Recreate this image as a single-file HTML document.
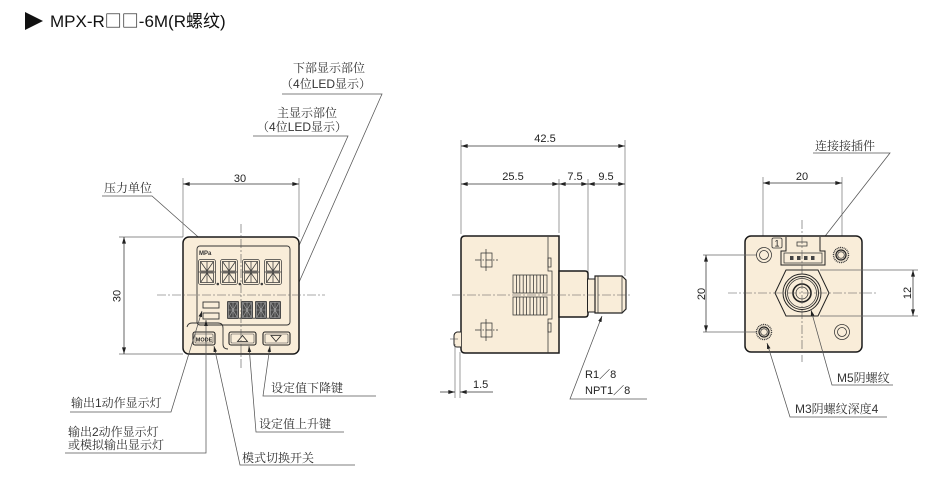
<!DOCTYPE html>
<html><head><meta charset="utf-8"><style>
html,body{margin:0;padding:0;background:#fff;}
svg{display:block;}
.cj{font-family:"Liberation Sans","Noto Serif CJK SC",serif;font-size:12px;fill:#333;}
.pp{font-family:"Noto Serif CJK SC",serif;}
.dm{font-family:"Liberation Sans",sans-serif;font-size:11px;fill:#222;}
.ld{stroke:#555;stroke-width:0.75;fill:none;}
.ex{stroke:#666;stroke-width:0.65;fill:none;}
.dl{stroke:#333;stroke-width:0.75;fill:none;}
.cl{stroke:#555;stroke-width:0.6;fill:none;stroke-dasharray:9 2 2 2;}
.bd{fill:#f9edd9;stroke:#1a1a1a;stroke-width:1.5;}
.th{fill:none;stroke:#333;stroke-width:0.75;}
.sg{fill:none;stroke:#3a3a3a;stroke-width:0.75;}
</style></head><body>
<svg width="944" height="491" viewBox="0 0 944 491" xmlns="http://www.w3.org/2000/svg">
<defs>
<marker id="ar" viewBox="0 0 10 6" refX="10" refY="3" markerWidth="7" markerHeight="4" orient="auto-start-reverse" markerUnits="userSpaceOnUse"><path d="M0,0 L10,3 L0,6z" fill="#222"/></marker>
<marker id="la" viewBox="0 0 10 6" refX="10" refY="3" markerWidth="6" markerHeight="3.6" orient="auto" markerUnits="userSpaceOnUse"><path d="M0,0 L10,3 L0,6z" fill="#222"/></marker>
</defs>

<!-- Title -->
<polygon points="25,12 43,21 25,30" fill="#111"/>
<text x="50" y="27" style="font-family:'Liberation Sans','Noto Sans CJK SC',sans-serif;font-size:17px;fill:#111">MPX-R<tspan style="font-family:'Noto Sans CJK SC',sans-serif">□□</tspan>-6M(R螺纹)</text>

<!-- ============ FRONT VIEW ============ -->
<text class="cj" x="293" y="72">下部显示部位</text>
<text class="cj" x="281" y="88"><tspan class="pp">（</tspan>4位LED显示<tspan class="pp">）</tspan></text>
<polyline class="ld" points="282,94 382,94 289,305" marker-end="url(#la)"/>
<text class="cj" x="277" y="117">主显示部位</text>
<text class="cj" x="257" y="131"><tspan class="pp">（</tspan>4位LED显示<tspan class="pp">）</tspan></text>
<polyline class="ld" points="253,136 348,136 289,268" marker-end="url(#la)"/>
<text class="cj" x="104" y="192">压力单位</text>
<polyline class="ld" points="102,196 152,196 205,243" marker-end="url(#la)"/>

<!-- dim 30 top -->
<line class="ex" x1="183" y1="178" x2="183" y2="237"/>
<line class="ex" x1="299" y1="178" x2="299" y2="237"/>
<line class="dl" x1="183" y1="184" x2="299" y2="184" marker-start="url(#ar)" marker-end="url(#ar)"/>
<text class="dm" x="240" y="182" text-anchor="middle">30</text>
<!-- dim 30 left -->
<line class="ex" x1="119" y1="237" x2="183" y2="237"/>
<line class="ex" x1="119" y1="354" x2="183" y2="354"/>
<line class="dl" x1="124" y1="237" x2="124" y2="354" marker-start="url(#ar)" marker-end="url(#ar)"/>
<text class="dm" transform="translate(120.5,296) rotate(-90)" text-anchor="middle">30</text>

<!-- panel -->
<rect class="bd" x="183" y="237" width="116" height="117" rx="6"/>
<rect x="197" y="246" width="93" height="79" rx="3" fill="#f9edd9" stroke="#333" stroke-width="0.9"/>
<text x="199" y="255" style="font-family:'Liberation Sans',sans-serif;font-size:6px;font-weight:bold;fill:#333">MPa</text>
<!-- upper digits -->
<g class="sg">
<g transform="translate(198,259)"><rect x="0.5" y="0.5" width="17" height="25" rx="2"/><rect x="2.5" y="2.5" width="13" height="9.5"/><rect x="2.5" y="14" width="13" height="9.5"/><line x1="9" y1="2.5" x2="9" y2="23.5"/><line x1="0.5" y1="13" x2="17.5" y2="13"/><line x1="2.5" y1="2.5" x2="9" y2="12"/><line x1="15.5" y1="2.5" x2="9" y2="12"/><line x1="2.5" y1="23.5" x2="9" y2="14"/><line x1="15.5" y1="23.5" x2="9" y2="14"/><circle cx="19.8" cy="25" r="0.9" fill="#444"/></g>
<g transform="translate(220,259)"><rect x="0.5" y="0.5" width="17" height="25" rx="2"/><rect x="2.5" y="2.5" width="13" height="9.5"/><rect x="2.5" y="14" width="13" height="9.5"/><line x1="9" y1="2.5" x2="9" y2="23.5"/><line x1="0.5" y1="13" x2="17.5" y2="13"/><line x1="2.5" y1="2.5" x2="9" y2="12"/><line x1="15.5" y1="2.5" x2="9" y2="12"/><line x1="2.5" y1="23.5" x2="9" y2="14"/><line x1="15.5" y1="23.5" x2="9" y2="14"/><circle cx="19.8" cy="25" r="0.9" fill="#444"/></g>
<g transform="translate(242,259)"><rect x="0.5" y="0.5" width="17" height="25" rx="2"/><rect x="2.5" y="2.5" width="13" height="9.5"/><rect x="2.5" y="14" width="13" height="9.5"/><line x1="9" y1="2.5" x2="9" y2="23.5"/><line x1="0.5" y1="13" x2="17.5" y2="13"/><line x1="2.5" y1="2.5" x2="9" y2="12"/><line x1="15.5" y1="2.5" x2="9" y2="12"/><line x1="2.5" y1="23.5" x2="9" y2="14"/><line x1="15.5" y1="23.5" x2="9" y2="14"/><circle cx="19.8" cy="25" r="0.9" fill="#444"/></g>
<g transform="translate(264,259)"><rect x="0.5" y="0.5" width="17" height="25" rx="2"/><rect x="2.5" y="2.5" width="13" height="9.5"/><rect x="2.5" y="14" width="13" height="9.5"/><line x1="9" y1="2.5" x2="9" y2="23.5"/><line x1="0.5" y1="13" x2="17.5" y2="13"/><line x1="2.5" y1="2.5" x2="9" y2="12"/><line x1="15.5" y1="2.5" x2="9" y2="12"/><line x1="2.5" y1="23.5" x2="9" y2="14"/><line x1="15.5" y1="23.5" x2="9" y2="14"/></g>
</g>
<!-- indicator bars -->
<rect x="203" y="302" width="16" height="6" fill="#f9edd9" stroke="#333" stroke-width="0.9"/>
<rect x="203" y="313" width="16" height="6" fill="#f9edd9" stroke="#333" stroke-width="0.9"/>
<!-- lower digits -->
<g>
<g transform="translate(227,301)"><rect x="0" y="0" width="12" height="18" rx="1" fill="#4a4a4a"/><path d="M2,2 L10,16 M10,2 L2,16 M6,1 V17 M1,9 H11 M1.5,1.5 H10.5 V16.5 H1.5Z" stroke="#aaa" stroke-width="0.6" fill="none"/><circle cx="13" cy="17.3" r="0.8" fill="#444"/></g>
<g transform="translate(241,301)"><rect x="0" y="0" width="12" height="18" rx="1" fill="#4a4a4a"/><path d="M2,2 L10,16 M10,2 L2,16 M6,1 V17 M1,9 H11 M1.5,1.5 H10.5 V16.5 H1.5Z" stroke="#aaa" stroke-width="0.6" fill="none"/><circle cx="13" cy="17.3" r="0.8" fill="#444"/></g>
<g transform="translate(255,301)"><rect x="0" y="0" width="12" height="18" rx="1" fill="#4a4a4a"/><path d="M2,2 L10,16 M10,2 L2,16 M6,1 V17 M1,9 H11 M1.5,1.5 H10.5 V16.5 H1.5Z" stroke="#aaa" stroke-width="0.6" fill="none"/><circle cx="13" cy="17.3" r="0.8" fill="#444"/></g>
<g transform="translate(269,301)"><rect x="0" y="0" width="12" height="18" rx="1" fill="#4a4a4a"/><path d="M2,2 L10,16 M10,2 L2,16 M6,1 V17 M1,9 H11 M1.5,1.5 H10.5 V16.5 H1.5Z" stroke="#aaa" stroke-width="0.6" fill="none"/></g>
</g>
<!-- mode area outline -->
<path d="M187,327 Q188,323 192,323 H218 Q223,323 223,328 V344 Q223,349 228,349" fill="none" stroke="#333" stroke-width="0.9"/>
<!-- buttons -->
<rect x="193" y="332" width="22" height="13" rx="2" fill="#f9edd9" stroke="#222" stroke-width="1.1"/>
<rect x="195" y="334" width="18" height="9" rx="1" fill="none" stroke="#444" stroke-width="0.6"/>
<text x="204" y="341.3" text-anchor="middle" style="font-family:'Liberation Sans',sans-serif;font-size:5.5px;font-weight:bold;fill:#222">MODE</text>
<rect x="229" y="332" width="27" height="13" rx="2" fill="#f9edd9" stroke="#222" stroke-width="1.1"/>
<rect x="231" y="334" width="23" height="9" rx="1" fill="none" stroke="#444" stroke-width="0.6"/>
<polygon points="237.5,341.5 242.5,335.5 247.5,341.5" fill="none" stroke="#222" stroke-width="0.8"/>
<rect x="263" y="332" width="27" height="13" rx="2" fill="#f9edd9" stroke="#222" stroke-width="1.1"/>
<rect x="265" y="334" width="23" height="9" rx="1" fill="none" stroke="#444" stroke-width="0.6"/>
<polygon points="271,335.5 281,335.5 276,341.5" fill="none" stroke="#222" stroke-width="0.8"/>
<!-- centerlines -->
<line class="cl" x1="241" y1="224" x2="241" y2="368"/>
<line class="cl" x1="157" y1="295" x2="325" y2="295"/>

<!-- bottom labels front -->
<text class="cj" x="71" y="407">输出1动作显示灯</text>
<polyline class="ld" points="70,412 171,412 202,311" marker-end="url(#la)"/>
<text class="cj" x="68" y="436">输出2动作显示灯</text>
<text class="cj" x="68" y="449">或模拟输出显示灯</text>
<polyline class="ld" points="65,453 206,453 206,320" marker-end="url(#la)"/>
<text class="cj" x="242" y="462">模式切换开关</text>
<polyline class="ld" points="355,465 240,465 214,346" marker-end="url(#la)"/>
<text class="cj" x="259" y="428">设定值上升键</text>
<polyline class="ld" points="344,432 256,432 249,346" marker-end="url(#la)"/>
<text class="cj" x="271" y="392">设定值下降键</text>
<polyline class="ld" points="376,396 263,396 270,346" marker-end="url(#la)"/>

<!-- ============ SIDE VIEW ============ -->
<line class="ex" x1="461" y1="140" x2="461" y2="234"/>
<line class="ex" x1="625" y1="140" x2="625" y2="276"/>
<line class="ex" x1="559" y1="179" x2="559" y2="233"/>
<line class="ex" x1="588" y1="179" x2="588" y2="279"/>
<line class="dl" x1="461" y1="146" x2="625" y2="146" marker-start="url(#ar)" marker-end="url(#ar)"/>
<text class="dm" x="545" y="142" text-anchor="middle">42.5</text>
<line class="dl" x1="461" y1="184" x2="559" y2="184" marker-start="url(#ar)" marker-end="url(#ar)"/>
<line class="dl" x1="559" y1="184" x2="588" y2="184" marker-start="url(#ar)" marker-end="url(#ar)"/>
<line class="dl" x1="588" y1="184" x2="625" y2="184" marker-start="url(#ar)" marker-end="url(#ar)"/>
<text class="dm" x="513" y="180" text-anchor="middle">25.5</text>
<text class="dm" x="575" y="180" text-anchor="middle">7.5</text>
<text class="dm" x="606" y="180" text-anchor="middle">9.5</text>

<!-- body -->
<path class="bd" d="M465,236 H559 V353 H465 Q461,353 461,349 V240 Q461,236 465,236Z"/>
<path d="M461,332 H457 Q454,333 454,336 V344 Q454,347 457,347 H461" fill="#f9edd9" stroke="#222" stroke-width="1"/>
<line x1="450" y1="339" x2="458" y2="339" stroke="#555" stroke-width="0.6"/>
<path d="M548,237 V271 H552 V319 H548 V353" class="th"/>
<rect x="548" y="258" width="3" height="9" class="th"/>
<rect x="548" y="323" width="3" height="9" class="th"/>
<!-- squares -->
<rect x="481" y="253" width="11" height="14" class="th"/>
<line x1="475" y1="260" x2="498" y2="260" class="th" stroke-dasharray="6 1.5 1.5 1.5"/>
<line x1="486" y1="249" x2="486" y2="271" class="th"/>
<rect x="481" y="323" width="11" height="14" class="th"/>
<line x1="475" y1="330" x2="498" y2="330" class="th" stroke-dasharray="6 1.5 1.5 1.5"/>
<line x1="486" y1="319" x2="486" y2="341" class="th"/>
<!-- grille -->
<g stroke="#333" stroke-width="0.75" fill="none">
<rect x="513" y="275" width="34" height="18"/>
<rect x="513" y="297" width="34" height="18"/>
<path d="M516.4,275V293M519.8,275V293M523.2,275V293M526.6,275V293M530,275V293M533.4,275V293M536.8,275V293M540.2,275V293M543.6,275V293"/>
<path d="M516.4,297V315M519.8,297V315M523.2,297V315M526.6,297V315M530,297V315M533.4,297V315M536.8,297V315M540.2,297V315M543.6,297V315"/>
</g>
<!-- neck, thread -->
<path class="bd" d="M559,271 H585 Q588,271 588,274 V314 Q588,317 585,317 H559 Z" stroke-width="1.2"/>
<rect x="587.5" y="279" width="8" height="33" fill="#f9edd9" stroke="#222" stroke-width="1"/>
<path d="M595,276 H622 L626,280 V309 L622,313 H595 Z" fill="#f9edd9" stroke="#222" stroke-width="1.2"/>
<line x1="598" y1="276" x2="598" y2="313" class="th"/>
<line x1="622" y1="276" x2="622" y2="313" class="th"/>
<line class="cl" x1="452" y1="295" x2="632" y2="295"/>
<!-- 1.5 dim -->
<line class="ex" x1="455" y1="344" x2="455" y2="398"/>
<line class="ex" x1="460" y1="352" x2="460" y2="398"/>
<line class="dl" x1="440" y1="392" x2="455" y2="392" marker-end="url(#ar)"/>
<line class="dl" x1="493" y1="392" x2="460" y2="392" marker-end="url(#ar)"/>
<text class="dm" x="473" y="388">1.5</text>
<!-- R1/8 -->
<text class="dm" x="585" y="378">R1<tspan style="font-family:'Noto Sans CJK SC',sans-serif">／</tspan>8</text>
<text class="dm" x="585" y="394">NPT1<tspan style="font-family:'Noto Sans CJK SC',sans-serif">／</tspan>8</text>
<polyline class="ld" points="647,399 570,399 602,316" marker-end="url(#la)"/>

<!-- ============ RIGHT VIEW ============ -->
<text class="cj" x="815" y="150">连接接插件</text>
<polyline class="ld" points="813,153 890,153 815,249" marker-end="url(#la)"/>
<line class="ex" x1="763" y1="177" x2="763" y2="347"/>
<line class="ex" x1="842" y1="177" x2="842" y2="250"/>
<line class="dl" x1="763" y1="183" x2="842" y2="183" marker-start="url(#ar)" marker-end="url(#ar)"/>
<text class="dm" x="802" y="180" text-anchor="middle">20</text>

<rect class="bd" x="745" y="236" width="117" height="116" rx="6"/>
<line class="ex" x1="703" y1="255" x2="757" y2="255"/>
<line class="ex" x1="703" y1="332" x2="757" y2="332"/>
<line class="dl" x1="706" y1="255" x2="706" y2="332" marker-start="url(#ar)" marker-end="url(#ar)"/>
<text class="dm" transform="translate(705,294) rotate(-90)" text-anchor="middle">20</text>
<line class="ex" x1="820" y1="270" x2="918" y2="270"/>
<line class="ex" x1="820" y1="316" x2="918" y2="316"/>
<line class="dl" x1="913" y1="270" x2="913" y2="316" marker-start="url(#ar)" marker-end="url(#ar)"/>
<text class="dm" transform="translate(911,293) rotate(-90)" text-anchor="middle">12</text>

<!-- connector -->
<path d="M786,237 V251 H781 V265 H825 V251 H820 V237" fill="#f9edd9" stroke="#222" stroke-width="1"/>
<rect x="784" y="253" width="38" height="10" class="th"/>
<rect x="797" y="242" width="10" height="4" class="th"/>
<g fill="#444"><rect x="790" y="256" width="3.5" height="4"/><rect x="797" y="256" width="3.5" height="4"/><rect x="804" y="256" width="3.5" height="4"/><rect x="811" y="256" width="3.5" height="4"/></g>
<rect x="772" y="238" width="10" height="10" rx="1.5" fill="#f9edd9" stroke="#333" stroke-width="0.8"/>
<text x="777" y="246.5" text-anchor="middle" style="font-family:'Liberation Sans',sans-serif;font-size:9px;fill:#222">1</text>

<!-- holes -->
<circle cx="764" cy="255" r="7.5" class="th"/><circle cx="764" cy="255" r="4.5" class="th"/>
<circle cx="842" cy="332" r="7.5" class="th"/><circle cx="842" cy="332" r="4.5" class="th"/>
<circle cx="841" cy="255" r="7.5" fill="none" stroke="#333" stroke-width="1.4" stroke-dasharray="1 0.8"/><circle cx="841" cy="255" r="5" fill="none" stroke="#222" stroke-width="1.3"/><circle cx="841" cy="255" r="3.3" class="th"/>
<circle cx="764" cy="332" r="7.5" fill="none" stroke="#333" stroke-width="1.4" stroke-dasharray="1 0.8"/><circle cx="764" cy="332" r="5" fill="none" stroke="#222" stroke-width="1.3"/><circle cx="764" cy="332" r="3.3" class="th"/>

<!-- hex & port -->
<polygon points="775,293 786,270 818,270 829,293 818,316 786,316" fill="#f9edd9" stroke="#222" stroke-width="1"/>
<circle cx="802" cy="293" r="19" fill="none" stroke="#222" stroke-width="1"/>
<circle cx="802" cy="293" r="16.5" fill="none" stroke="#222" stroke-width="1"/>
<circle cx="802" cy="293" r="14.5" class="th"/>
<circle cx="802" cy="293" r="9" fill="none" stroke="#222" stroke-width="1.6"/>
<circle cx="802" cy="293" r="6" class="th"/>
<line class="cl" x1="728" y1="293" x2="877" y2="293"/>
<line class="cl" x1="802" y1="220" x2="802" y2="362"/>

<text class="cj" x="837" y="382">M5阴螺纹</text>
<polyline class="ld" points="893,385 832,385 811,310" marker-end="url(#la)"/>
<text class="cj" x="795" y="413">M3阴螺纹深度4</text>
<polyline class="ld" points="887,417 790,417 767,343" marker-end="url(#la)"/>
</svg>
</body></html>
